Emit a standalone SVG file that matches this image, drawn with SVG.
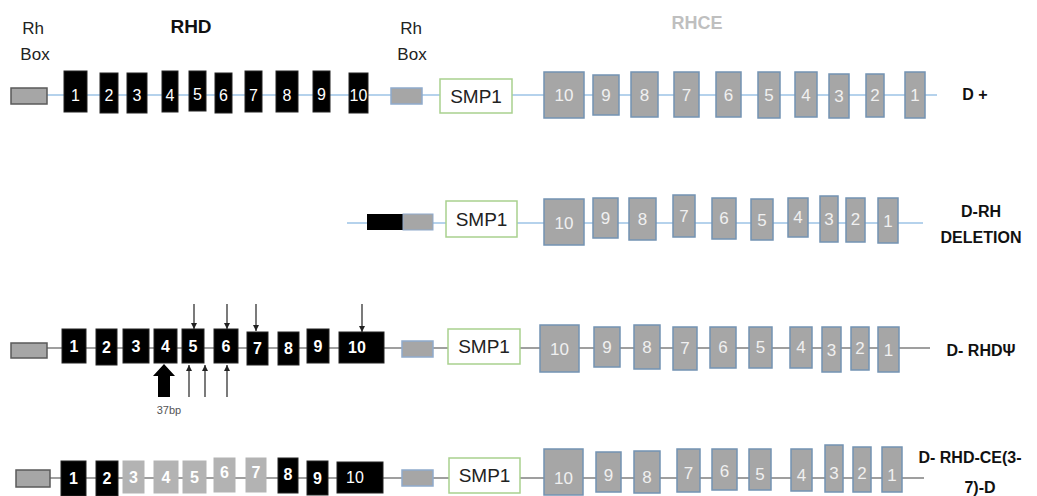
<svg xmlns="http://www.w3.org/2000/svg" width="1037" height="496" viewBox="0 0 1037 496">
<defs>
<style>
text{font-family:"Liberation Sans",Arial,sans-serif}
.bx{fill:#000;stroke:#222;stroke-width:1}
.gx{fill:#a6a6a6;stroke:#7393b3;stroke-width:1.5}
.lx{fill:#b3b3b3;stroke:#b3b3b3;stroke-width:1}
.rb1{fill:#a6a6a6;stroke:#5a5a5a;stroke-width:1.5}
.rb2{fill:#a6a6a6;stroke:#8faacc;stroke-width:1.5}
.smp{fill:#fff;stroke:#a9d18e;stroke-width:1.5}
.bt{fill:#fff;font-size:16px;text-anchor:middle}
.bt3{fill:#fff;font-size:16px;font-weight:bold;text-anchor:middle}
.gt{fill:#f0f0f0;font-size:17px;text-anchor:middle}
.st{fill:#222;font-size:19px;text-anchor:middle}
.lbl{fill:#111;font-size:16px;font-weight:bold;text-anchor:middle}
.rh{fill:#222;font-size:17px;text-anchor:middle}
.blue{stroke:#9dc3e6;stroke-width:1.5;fill:none}
.grey{stroke:#7f7f7f;stroke-width:1.5;fill:none}
.arr{stroke:#222;stroke-width:1.2;fill:none;marker-end:url(#ah)}
</style>
<marker id="ah" viewBox="0 0 10 10" refX="10" refY="5" markerWidth="6" markerHeight="6" markerUnits="userSpaceOnUse" orient="auto">
<path d="M0,0 L10,5 L0,10 z" fill="#222"/>
</marker>
</defs>
<rect width="1037" height="496" fill="#fff"/>

<!-- connectors -->
<g id="connectors">
<line class="blue" x1="11" y1="95" x2="937" y2="95"/>
<line class="blue" x1="347" y1="223" x2="923" y2="223"/>
<line class="grey" x1="47" y1="348" x2="930" y2="348"/>
<line class="grey" x1="50" y1="478" x2="924" y2="478"/>
<line class="arr" x1="194" y1="304" x2="194" y2="329"/>
<line class="arr" x1="227" y1="304" x2="227" y2="329"/>
<line class="arr" x1="256" y1="304" x2="256" y2="331"/>
<line class="arr" x1="362" y1="304" x2="362" y2="332"/>
<line class="arr" x1="189" y1="397" x2="189" y2="365"/>
<line class="arr" x1="205" y1="397" x2="205" y2="365"/>
<line class="arr" x1="227" y1="397" x2="227" y2="365"/>
<polygon points="164,364 175,376 170,376 170,397 158,397 158,376 153,376" fill="#000"/>
</g>

<!-- headings -->
<g id="headings">
<text class="rh" x="33" y="34">Rh</text>
<text class="rh" x="35" y="60">Box</text>
<text class="rh" x="411" y="34">Rh</text>
<text class="rh" x="412" y="60">Box</text>
<text x="191" y="33" font-size="19" font-weight="bold" fill="#111" text-anchor="middle">RHD</text>
<text x="697" y="29" font-size="18" font-weight="bold" fill="#bfbfbf" text-anchor="middle">RHCE</text>
</g>

<!-- Row 1: D+ -->
<g id="row1">
<rect id="r1-rhbox1" class="rb1" x="11" y="88" width="36" height="16"/>
<g id="r1-rhd">
<rect class="bx" x="64" y="71" width="23" height="41"/><text class="bt" x="75.5" y="101">1</text>
<rect class="bx" x="100" y="73" width="18" height="40"/><text class="bt" x="109" y="101">2</text>
<rect class="bx" x="127" y="73" width="20" height="40"/><text class="bt" x="137" y="101">3</text>
<rect class="bx" x="162" y="71" width="16" height="41"/><text class="bt" x="170" y="101">4</text>
<rect class="bx" x="189" y="71" width="17" height="40"/><text class="bt" x="197.5" y="100">5</text>
<rect class="bx" x="215" y="73" width="17" height="40"/><text class="bt" x="223.5" y="101">6</text>
<rect class="bx" x="245" y="71" width="17" height="41"/><text class="bt" x="253.5" y="101">7</text>
<rect class="bx" x="276" y="71" width="22" height="41"/><text class="bt" x="287" y="101">8</text>
<rect class="bx" x="313" y="71" width="17" height="41"/><text class="bt" x="321.5" y="100">9</text>
<rect class="bx" x="349" y="73" width="19" height="40"/><text class="bt" x="358.5" y="101">10</text>
</g>
<rect id="r1-rhbox2" class="rb2" x="391" y="88" width="31" height="16"/>
<g id="r1-smp1"><rect class="smp" x="440" y="79" width="72" height="34"/><text class="st" x="476" y="103">SMP1</text></g>
<g id="r1-rhce">
<rect class="gx" x="544" y="72" width="40" height="46"/><text class="gt" x="564" y="101">10</text>
<rect class="gx" x="593" y="75" width="26" height="40"/><text class="gt" x="606" y="101">9</text>
<rect class="gx" x="631" y="72" width="27" height="45"/><text class="gt" x="644.5" y="101">8</text>
<rect class="gx" x="674" y="72" width="25" height="45"/><text class="gt" x="686.5" y="101">7</text>
<rect class="gx" x="716" y="72" width="25" height="45"/><text class="gt" x="728.5" y="101">6</text>
<rect class="gx" x="758" y="72" width="22" height="46"/><text class="gt" x="769" y="101">5</text>
<rect class="gx" x="795" y="72" width="22" height="45"/><text class="gt" x="806" y="101">4</text>
<rect class="gx" x="829" y="74" width="20" height="44"/><text class="gt" x="839" y="102">3</text>
<rect class="gx" x="866" y="74" width="18" height="43"/><text class="gt" x="875" y="101">2</text>
<rect class="gx" x="905" y="72" width="20" height="46"/><text class="gt" x="915" y="101">1</text>
</g>
<text id="r1-label" class="lbl" x="975" y="100" font-size="19">D +</text>
</g>

<!-- Row 2: D-RH deletion -->
<g id="row2">
<g id="r2-hybrid">
<rect x="367" y="214" width="36" height="16" fill="#000"/>
<rect x="403" y="214" width="30" height="16" fill="#a6a6a6" stroke="#8faacc" stroke-width="1"/>
</g>
<g id="r2-smp1"><rect class="smp" x="446" y="201" width="71" height="36"/><text class="st" x="481.5" y="226">SMP1</text></g>
<g id="r2-rhce">
<rect class="gx" x="544" y="199" width="40" height="46"/><text class="gt" x="564" y="229">10</text>
<rect class="gx" x="593" y="198" width="25" height="40"/><text class="gt" x="605.5" y="224">9</text>
<rect class="gx" x="629" y="198" width="27" height="42"/><text class="gt" x="642.5" y="225">8</text>
<rect class="gx" x="673" y="195" width="22" height="42"/><text class="gt" x="684" y="222">7</text>
<rect class="gx" x="712" y="198" width="24" height="41"/><text class="gt" x="724" y="224">6</text>
<rect class="gx" x="751" y="199" width="22" height="41"/><text class="gt" x="762" y="226">5</text>
<rect class="gx" x="788" y="198" width="20" height="39"/><text class="gt" x="798" y="223">4</text>
<rect class="gx" x="820" y="196" width="18" height="46"/><text class="gt" x="829" y="225">3</text>
<rect class="gx" x="846" y="198" width="19" height="44"/><text class="gt" x="855.5" y="225">2</text>
<rect class="gx" x="878" y="198" width="20" height="45"/><text class="gt" x="888" y="227">1</text>
</g>
<g id="r2-label">
<text class="lbl" x="981" y="217">D-RH</text>
<text class="lbl" x="981" y="243">DELETION</text>
</g>
</g>

<!-- Row 3: D- RHDpsi -->
<g id="row3">
<rect id="r3-rhbox1" class="rb1" x="11" y="343" width="36" height="15"/>
<g id="r3-rhd">
<rect class="bx" x="62" y="329" width="24" height="34"/><text class="bt3" x="74" y="352">1</text>
<rect class="bx" x="96" y="329" width="21" height="36"/><text class="bt3" x="106.5" y="353">2</text>
<rect class="bx" x="123" y="329" width="26" height="34"/><text class="bt3" x="136" y="352">3</text>
<rect class="bx" x="154" y="329" width="23" height="34"/><text class="bt3" x="165.5" y="352">4</text>
<rect class="bx" x="182" y="329" width="22" height="34"/><text class="bt3" x="193" y="352">5</text>
<rect class="bx" x="214" y="329" width="24" height="34"/><text class="bt3" x="226" y="352">6</text>
<rect class="bx" x="247" y="332" width="21" height="33"/><text class="bt3" x="257.5" y="354">7</text>
<rect class="bx" x="278" y="332" width="21" height="33"/><text class="bt3" x="288.5" y="354">8</text>
<rect class="bx" x="307" y="329" width="22" height="34"/><text class="bt3" x="318" y="352">9</text>
<rect class="bx" x="339" y="332" width="45" height="31"/><text class="bt3" x="357" y="353">10</text>
</g>
<text id="r3-37bp" x="169" y="414" font-size="11" fill="#555" text-anchor="middle">37bp</text>
<rect id="r3-rhbox2" class="rb2" x="402" y="341" width="31" height="16"/>
<g id="r3-smp1"><rect class="smp" x="448" y="329" width="72" height="35"/><text class="st" x="484" y="353">SMP1</text></g>
<g id="r3-rhce">
<rect class="gx" x="540" y="325" width="39" height="47"/><text class="gt" x="559.5" y="355">10</text>
<rect class="gx" x="594" y="327" width="26" height="40"/><text class="gt" x="607" y="353">9</text>
<rect class="gx" x="634" y="325" width="26" height="44"/><text class="gt" x="647" y="353">8</text>
<rect class="gx" x="673" y="327" width="24" height="43"/><text class="gt" x="685" y="354">7</text>
<rect class="gx" x="710" y="327" width="26" height="41"/><text class="gt" x="723" y="353">6</text>
<rect class="gx" x="749" y="327" width="23" height="41"/><text class="gt" x="760.5" y="353">5</text>
<rect class="gx" x="790" y="327" width="22" height="41"/><text class="gt" x="801" y="353">4</text>
<rect class="gx" x="822" y="327" width="19" height="45"/><text class="gt" x="831.5" y="356">3</text>
<rect class="gx" x="851" y="327" width="18" height="43"/><text class="gt" x="860" y="354">2</text>
<rect class="gx" x="878" y="327" width="21" height="45"/><text class="gt" x="888.5" y="356">1</text>
</g>
<text id="r3-label" class="lbl" x="981" y="356">D- RHDΨ</text>
</g>

<!-- Row 4: D- RHD-CE(3-7)-D -->
<g id="row4">
<rect id="r4-rhbox1" class="rb1" x="16" y="470" width="34" height="17"/>
<g id="r4-rhd">
<rect class="bx" x="61" y="461" width="25" height="35"/><text class="bt3" x="73.5" y="484">1</text>
<rect class="bx" x="96" y="461" width="22" height="35"/><text class="bt3" x="107" y="484">2</text>
<rect class="lx" x="123" y="461" width="21" height="32"/><text class="bt3" x="133.5" y="483">3</text>
<rect class="lx" x="154" y="461" width="24" height="32"/><text class="bt3" x="166" y="483">4</text>
<rect class="lx" x="183" y="461" width="23" height="32"/><text class="bt3" x="194.5" y="483">5</text>
<rect class="lx" x="214" y="458" width="21" height="34"/><text class="bt3" x="224.5" y="478">6</text>
<rect class="lx" x="246" y="458" width="20" height="34"/><text class="bt3" x="256" y="478">7</text>
<rect class="bx" x="278" y="458" width="20" height="35"/><text class="bt3" x="288" y="480">8</text>
<rect class="bx" x="307" y="461" width="21" height="34"/><text class="bt3" x="317.5" y="484">9</text>
<rect class="bx" x="337" y="462" width="46" height="31"/><text class="bt" x="355" y="483">10</text>
</g>
<rect id="r4-rhbox2" class="rb2" x="402" y="470" width="31" height="16"/>
<g id="r4-smp1"><rect class="smp" x="449" y="458" width="71" height="35"/><text class="st" x="484.5" y="482">SMP1</text></g>
<g id="r4-rhce">
<rect class="gx" x="544" y="449" width="39" height="46"/><text class="gt" x="563.5" y="484">10</text>
<rect class="gx" x="596" y="452" width="25" height="40"/><text class="gt" x="608.5" y="481">9</text>
<rect class="gx" x="634" y="451" width="26" height="42"/><text class="gt" x="647" y="483">8</text>
<rect class="gx" x="677" y="449" width="23" height="43"/><text class="gt" x="688.5" y="479">7</text>
<rect class="gx" x="712" y="449" width="25" height="41"/><text class="gt" x="724.5" y="477">6</text>
<rect class="gx" x="749" y="449" width="22" height="41"/><text class="gt" x="760" y="480">5</text>
<rect class="gx" x="791" y="449" width="21" height="42"/><text class="gt" x="801.5" y="481">4</text>
<rect class="gx" x="825" y="445" width="18" height="47"/><text class="gt" x="834" y="479">3</text>
<rect class="gx" x="853" y="447" width="18" height="45"/><text class="gt" x="862" y="479">2</text>
<rect class="gx" x="882" y="447" width="20" height="45"/><text class="gt" x="892" y="481">1</text>
</g>
<g id="r4-label">
<text class="lbl" x="970" y="463">D- RHD-CE(3-</text>
<text class="lbl" x="980" y="493">7)-D</text>
</g>
</g>
</svg>
